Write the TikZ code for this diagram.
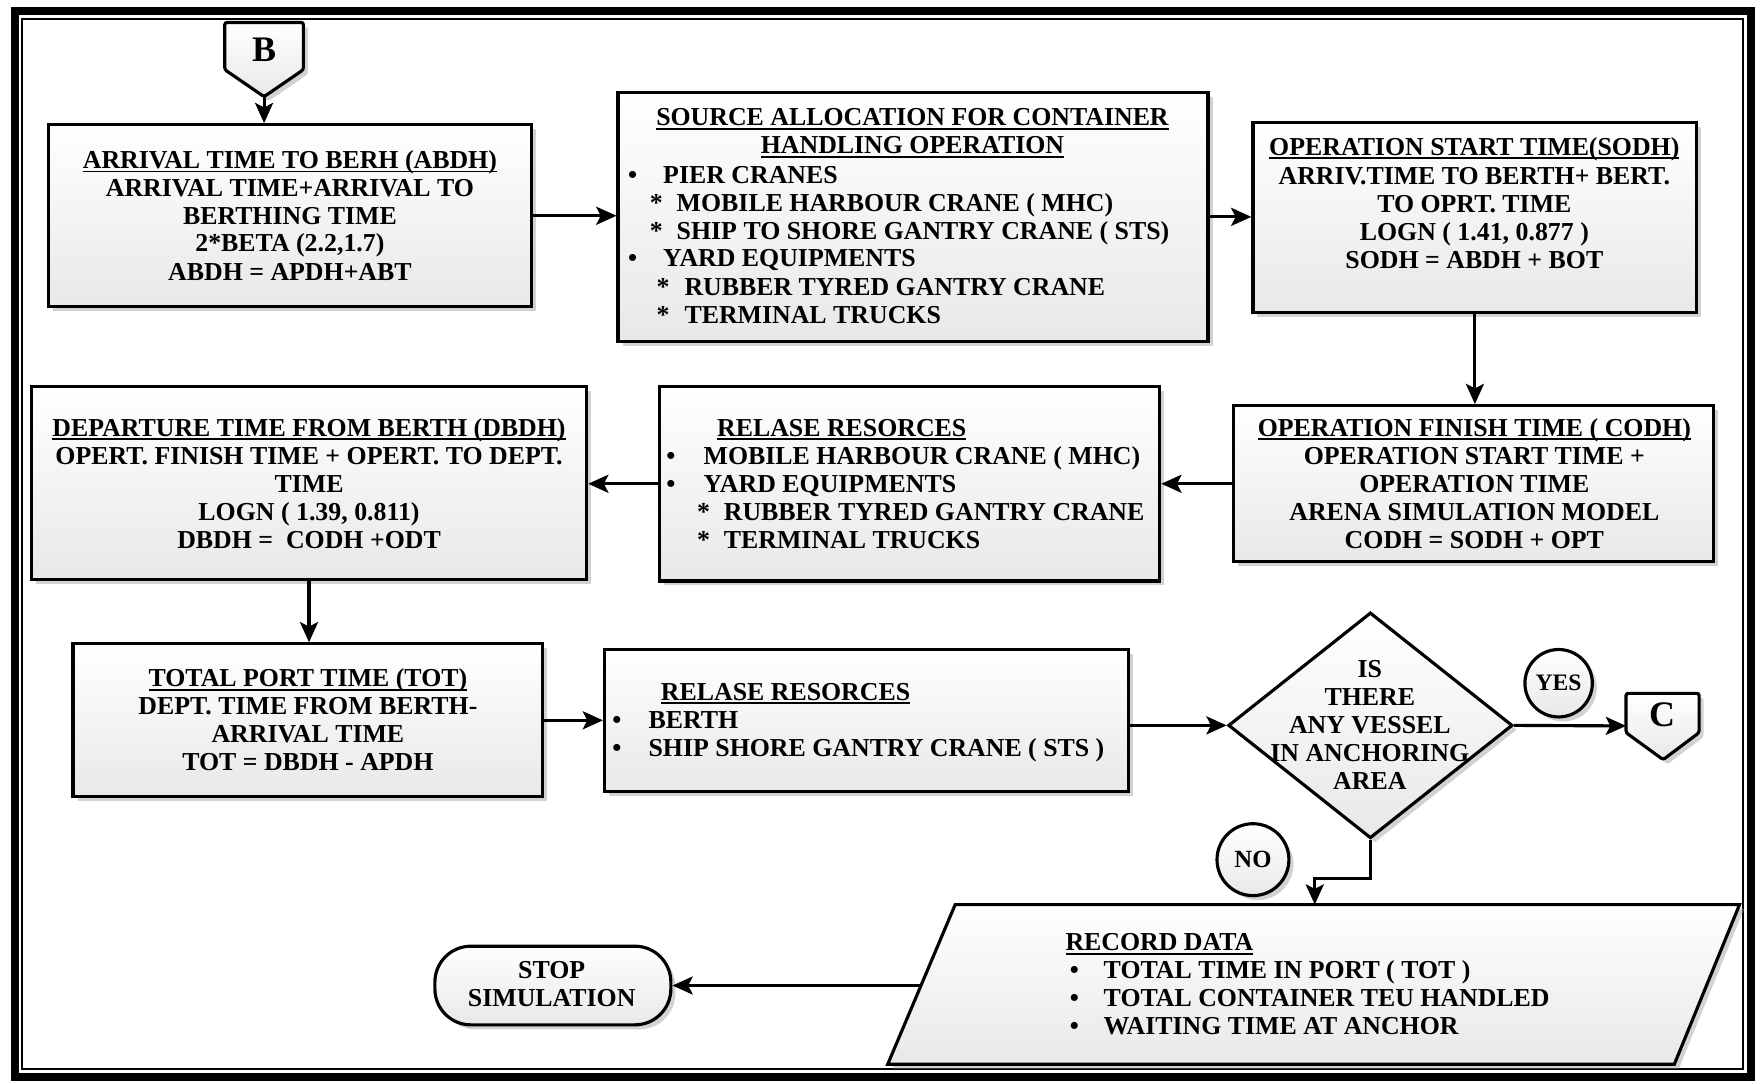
\documentclass[tikz,border=0pt]{standalone}
\usepackage{fontspec}
\setmainfont{Liberation Serif}
\usetikzlibrary{arrows.meta,shapes.geometric,shadows}
\newcommand{\myul}[1]{\setbox0=\hbox{#1}\rlap{\copy0}\rule[-3.5pt]{\wd0}{1.5pt}}
\begin{document}
\begin{tikzpicture}[x=1pt,y=-1pt,
  every node/.style={font=\fontsize{23}{25}\selectfont\bfseries, inner sep=0pt},
  boxshape/.style={draw, line width=2.8pt, top color=white, bottom color=black!9,
    drop shadow={shadow xshift=4pt, shadow yshift=-4pt, fill=black!35, opacity=0.5}},
  tx/.style={anchor=base},
  tl/.style={anchor=base west},
  arr/.style={line width=2.8pt, -{Stealth[length=18pt,width=16pt,inset=4pt]}},
  ln/.style={line width=2.8pt}
]
\useasboundingbox (0,0) rectangle (1568,964);
\fill[white] (0,0) rectangle (1568,964);
% frame
\draw[line width=7pt] (13,9.5) rectangle (1558.5,958.5);
\draw[line width=1.5pt] (19.5,17) rectangle (1551,951);

% connector B
\draw[boxshape, rounded corners=2pt] (200,20) -- (270,20) -- (270,62) -- (235,86) -- (200,62) -- cycle;
\node (Bt) at (235,44) {\fontsize{32}{32}\selectfont B};
\coordinate (Btip) at (235,86);

% boxes
\node[boxshape, rectangle, minimum width=430pt, minimum height=162pt] (n1) at (258,192) {};
\node[boxshape, rectangle, minimum width=525pt, minimum height=222pt] (n2) at (812.5,193) {};
\node[boxshape, rectangle, minimum width=395pt, minimum height=169pt] (n3) at (1312.5,193.5) {};
\node[boxshape, rectangle, minimum width=427pt, minimum height=139pt] (n4) at (1311.5,430.5) {};
\node[boxshape, rectangle, minimum width=445pt, minimum height=173pt] (n5) at (809.5,430.5) {};
\node[boxshape, rectangle, minimum width=494pt, minimum height=172pt] (n6) at (275,430) {};
\node[boxshape, rectangle, minimum width=418pt, minimum height=136pt] (n7) at (274,641) {};
\node[boxshape, rectangle, minimum width=466pt, minimum height=126pt] (n8) at (771,641) {};
\node[boxshape, diamond, minimum width=253pt, minimum height=201pt] (d) at (1219.5,645.5) {};

% connector C
\draw[boxshape, rounded corners=2pt] (1447,617) -- (1512,617) -- (1512,652) -- (1480,676) -- (1447,652) -- cycle;
\node (Ct) at (1479,636) {\fontsize{32}{32}\selectfont C};
\coordinate (Cleft) at (1447,646);

% YES / NO
\node[boxshape, circle, minimum size=60pt] (yes) at (1387,608) {\fontsize{21}{21}\selectfont YES};
\node[boxshape, circle, minimum size=64pt] (no) at (1115,765) {\fontsize{22}{22}\selectfont NO};

% record data parallelogram
\draw[boxshape] (850,805) -- (1548,805) -- (1490,947) -- (790,947) -- cycle;
\coordinate (ptop) at (1170,805);
\coordinate (pleft) at (819.6,877);

% stop
\node[boxshape, rectangle, rounded corners=32pt, minimum width=210pt, minimum height=70pt] (stop) at (492,877) {};

% texts box1
\node[tx] (a1) at (258,150) {\myul{ARRIVAL TIME TO BERH (ABDH)}};
\node[tx] (a2) at (258,175) {ARRIVAL TIME+ARRIVAL TO};
\node[tx] (a3) at (258,200) {BERTHING TIME};
\node[tx] (a4) at (258,224) {2*BETA (2.2,1.7)};
\node[tx] (a5) at (258,250) {ABDH = APDH+ABT};

% texts box2
\node[tx] (b1) at (812,112) {\myul{SOURCE ALLOCATION FOR CONTAINER}};
\node[tx] (b2) at (812,137) {\myul{HANDLING OPERATION}};
\node[tx] (b3d) at (563,163) {•};
\node[tl] (b3) at (590,163) {PIER CRANES};
\node[tx] (b4s) at (584,188) {*};
\node[tl] (b4) at (602,188) {MOBILE HARBOUR CRANE ( MHC)};
\node[tx] (b5s) at (584,213) {*};
\node[tl] (b5) at (602,213) {SHIP TO SHORE GANTRY CRANE ( STS)};
\node[tx] (b6d) at (563,237) {•};
\node[tl] (b6) at (590,237) {YARD EQUIPMENTS};
\node[tx] (b7s) at (590,263) {*};
\node[tl] (b7) at (609,263) {RUBBER TYRED GANTRY CRANE};
\node[tx] (b8s) at (590,288) {*};
\node[tl] (b8) at (609,288) {TERMINAL TRUCKS};

% texts box3
\node[tx] (c1) at (1312,138) {\myul{OPERATION START TIME(SODH)}};
\node[tx] (c2) at (1312,164) {ARRIV.TIME TO BERTH+ BERT.};
\node[tx] (c3) at (1312,189) {TO OPRT. TIME};
\node[tx] (c4) at (1312,214) {LOGN ( 1.41, 0.877 )};
\node[tx] (c5) at (1312,239) {SODH = ABDH + BOT};

% texts box4
\node[tx] (e1) at (1312,388) {\myul{OPERATION FINISH TIME ( CODH)}};
\node[tx] (e2) at (1312,413) {OPERATION START TIME +};
\node[tx] (e3) at (1312,438) {OPERATION TIME};
\node[tx] (e4) at (1312,463) {ARENA SIMULATION MODEL};
\node[tx] (e5) at (1312,488) {CODH = SODH + OPT};

% texts box5
\node[tl] (f1) at (638,388) {\myul{RELASE RESORCES}};
\node[tx] (f2d) at (597,413) {•};
\node[tl] (f2) at (626,413) {MOBILE HARBOUR CRANE ( MHC)};
\node[tx] (f3d) at (597,438) {•};
\node[tl] (f3) at (626,438) {YARD EQUIPMENTS};
\node[tx] (f4s) at (626,463) {*};
\node[tl] (f4) at (644,463) {RUBBER TYRED GANTRY CRANE};
\node[tx] (f5s) at (626,488) {*};
\node[tl] (f5) at (644,488) {TERMINAL TRUCKS};

% texts box6
\node[tx] (g1) at (275,388) {\myul{DEPARTURE TIME FROM BERTH (DBDH)}};
\node[tx] (g2) at (275,413) {OPERT. FINISH TIME + OPERT. TO DEPT.};
\node[tx] (g3) at (275,438) {TIME};
\node[tx] (g4) at (275,463) {LOGN ( 1.39, 0.811)};
\node[tx] (g5) at (275,488) {DBDH =\ \ CODH +ODT};

% texts box7
\node[tx] (h1) at (274,611) {\myul{TOTAL PORT TIME (TOT)}};
\node[tx] (h2) at (274,636) {DEPT. TIME FROM BERTH-};
\node[tx] (h3) at (274,661) {ARRIVAL TIME};
\node[tx] (h4) at (274,686) {TOT = DBDH - APDH};

% texts box8
\node[tl] (i1) at (588,623) {\myul{RELASE RESORCES}};
\node[tx] (i2d) at (549,648) {•};
\node[tl] (i2) at (577,648) {BERTH};
\node[tx] (i3d) at (549,673) {•};
\node[tl] (i3) at (577,673) {SHIP SHORE GANTRY CRANE ( STS )};

% diamond text
\node[tx] (j1) at (1219,603) {IS};
\node[tx] (j2) at (1219,628) {THERE};
\node[tx] (j3) at (1219,653) {ANY VESSEL};
\node[tx] (j4) at (1219,678) {IN ANCHORING};
\node[tx] (j5) at (1219,703) {AREA};

% record data text
\node[tl] (k1) at (948,846) {\myul{RECORD DATA}};
\node[tx] (k2d) at (956,871) {•};
\node[tl] (k2) at (982,871) {TOTAL TIME IN PORT ( TOT )};
\node[tx] (k3d) at (956,896) {•};
\node[tl] (k3) at (982,896) {TOTAL CONTAINER TEU HANDLED};
\node[tx] (k4d) at (956,921) {•};
\node[tl] (k4) at (982,921) {WAITING TIME AT ANCHOR};

% stop text
\node[tx] (s1) at (491,871) {STOP};
\node[tx] (s2) at (491,896) {SIMULATION};

% connectors
\draw[arr] (Btip) -- (Btip |- n1.north);
\draw[arr] (n1.east) -- (n1.east -| n2.west);
\draw[arr] (n2.east) -- (n2.east -| n3.west);
\draw[arr] (n3.south) -- (n3.south |- n4.north);
\draw[arr] (n4.west) -- (n4.west -| n5.east);
\draw[arr] (n5.west) -- (n5.west -| n6.east);
\draw[arr] (n6.south) -- (n6.south |- n7.north);
\draw[arr] (n7.east) -- (n7.east -| n8.west);
\draw[arr] (n8.east |- d.west) -- (d.west);
\draw[arr] (d.east) -- (Cleft);
\draw[arr] (d.south) -- ++(0,34) -| (ptop);
\draw[arr] (pleft) -- (stop.east);
\end{tikzpicture}
\end{document}
